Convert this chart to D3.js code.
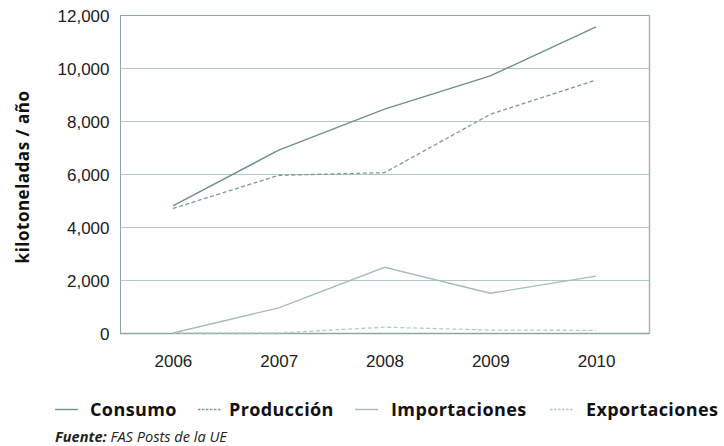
<!DOCTYPE html>
<html><head><meta charset="utf-8">
<script src="https://cdn.jsdelivr.net/npm/d3@7"></script>
<style>
html,body{margin:0;padding:0;background:#fff;}
svg{display:block;font-family:"Open Sans",sans-serif;}
</style></head>
<body>
<svg id="chart" width="724" height="446"></svg>
<script>
const years = ["2006","2007","2008","2009","2010"];
const consumo = [4800, 6900, 8450, 9700, 11550];
const produccion = [4700, 5950, 6050, 8250, 9550];
const importaciones = [0, 950, 2480, 1500, 2150];
const exportaciones = [0, 0, 220, 110, 100];
const yTicks = [0, 2000, 4000, 6000, 8000, 10000, 12000];
const seriesNames = ["Consumo", "Producción", "Importaciones", "Exportaciones"];

const series = [
  {name: seriesNames[0], values: consumo, color: "#6f9186", dash: null, w: 1.4},
  {name: seriesNames[1], values: produccion, color: "#7c9a90", dash: "4,2.5", w: 1.3},
  {name: seriesNames[2], values: importaciones, color: "#a6bdb5", dash: null, w: 1.3},
  {name: seriesNames[3], values: exportaciones, color: "#b7cbc4", dash: "4,2.5", w: 1.3}
];

const svg = d3.select("#chart");
const m = {l: 120, r: 75, t: 15, b: 113};
const W = 724, H = 446;
const x = d3.scalePoint().domain(years).range([m.l, W - m.r]).padding(0.5);
const y = d3.scaleLinear().domain([0, 12000]).range([H - m.b, m.t]);
const fmt = d3.format(",");

// grid
svg.append("g").selectAll("line").data(yTicks).join("line")
  .attr("x1", m.l).attr("x2", W - m.r)
  .attr("y1", d => y(d) + 0.5).attr("y2", d => y(d) + 0.5)
  .attr("stroke", d => d === 12000 ? "#8ea89e" : "#b3cac1").attr("stroke-width", 1);
// frame left/right
svg.append("line").attr("x1", m.l + 0.5).attr("x2", m.l + 0.5).attr("y1", y(12000)).attr("y2", y(0) + 1)
  .attr("stroke", "#8ea89e");
svg.append("line").attr("x1", W - m.r + 0.5).attr("x2", W - m.r + 0.5).attr("y1", y(12000)).attr("y2", y(0) + 1)
  .attr("stroke", "#a3b8b0").attr("stroke-width", 1.5);

// y axis
const yAxis = d3.axisLeft(y).tickValues(yTicks).tickFormat(fmt).tickSize(0).tickPadding(10.5);
const gy = svg.append("g").attr("transform", `translate(${m.l},0)`).call(yAxis);
gy.select(".domain").remove();
gy.selectAll("text").attr("font-size", 17).attr("fill", "#222").attr("dy", "0.36em");

// x axis
const xAxis = d3.axisBottom(x).tickSize(0).tickPadding(22);
const gx = svg.append("g").attr("transform", `translate(0,${y(0)})`).call(xAxis);
gx.select(".domain").attr("stroke", "#8ea89e").attr("stroke-width", 1.6).attr("d", `M${m.l},0.5H${W - m.r}`);
gx.selectAll("text").attr("font-size", 17).attr("fill", "#222");

// y title
svg.append("text").attr("transform", `translate(29,${(y(0) + y(12000)) / 2 + 3}) rotate(-90)`)
  .attr("text-anchor", "middle").attr("font-size", 17).attr("letter-spacing", 0.5)
  .attr("font-weight", "bold").attr("fill", "#111")
  .text("kilotoneladas / año");

// lines
const line = d3.line().x((d, i) => x(years[i])).y(d => y(d));
svg.append("g").selectAll("path").data(series.slice().reverse()).join("path")
  .attr("d", s => line(s.values))
  .attr("fill", "none").attr("stroke", s => s.color).attr("stroke-width", s => s.w)
  .attr("stroke-dasharray", s => s.dash);

// legend
const legSym = [55, 198, 355, 550];
const legText = [90, 229, 391, 586];
const lg = svg.append("g").selectAll("g").data(series).join("g");
lg.append("line").attr("x1", (s, i) => legSym[i]).attr("x2", (s, i) => legSym[i] + 23)
  .attr("y1", 409.5).attr("y2", 409.5)
  .attr("stroke", s => s.color).attr("stroke-width", 1.4).attr("stroke-dasharray", s => s.dash ? "2.5,1.5" : null);
lg.append("text").attr("x", (s, i) => legText[i]).attr("y", 415.7)
  .attr("font-size", 18).attr("letter-spacing", 0.4).attr("font-weight", "bold").attr("fill", "#111")
  .text(s => s.name);

// source
const src = svg.append("text").attr("x", 55).attr("y", 441.5).attr("font-size", 13).attr("font-style", "italic").attr("fill", "#222");
src.append("tspan").attr("font-weight", "bold").text("Fuente:");
src.append("tspan").text(" FAS Posts de la UE");
const sw = src.node().getComputedTextLength();
if (sw > 0) src.attr("font-size", 13 * 172 / sw);
</script>
</body></html>
